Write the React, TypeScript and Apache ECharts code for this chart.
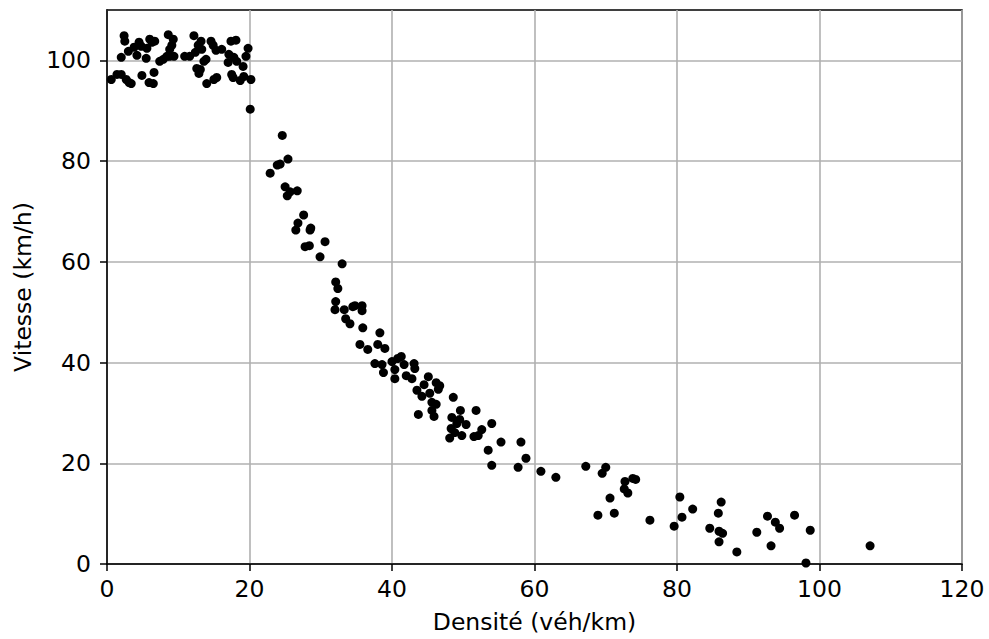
import React, { useEffect, useRef } from "react";
import * as echarts from "echarts";

const density: number[] = [
  0.6, 1.4, 2.0, 2.0, 2.4, 2.5, 2.7, 3.0, 3.1, 3.4, 3.8, 4.2, 4.5, 4.8, 4.9, 5.5, 5.6, 5.9, 6.0, 6.3,
  6.5, 6.6, 6.7, 7.4, 7.9, 8.4, 8.6, 8.8, 8.8, 9.1, 9.3, 9.4, 10.9, 11.6, 12.2, 12.4, 12.6, 12.8, 12.9, 13.1,
  13.2, 13.3, 13.6, 13.9, 14.0, 14.6, 14.9, 15.0, 15.3, 15.4, 16.1, 17.0, 17.1, 17.4, 17.5, 17.7, 17.8, 18.1, 18.2, 18.7,
  19.1, 19.2, 19.5, 19.8, 20.2, 20.1,
  22.9, 23.9, 24.3, 24.6, 25.0, 25.3, 25.4, 25.7, 26.7, 26.5, 26.8, 27.6, 27.8, 28.4, 28.5, 28.6, 29.9, 30.6,
  32.0, 32.1, 32.1, 32.4, 33.0, 33.3, 33.5, 34.1, 34.5, 34.8, 35.5, 35.8, 35.8, 35.9, 36.6, 37.6, 38.0, 38.3,
  38.6, 38.8, 39.0, 40.0, 40.4, 40.4, 40.8, 41.3, 42.0, 41.7, 42.8, 43.1, 43.2, 43.5, 43.7, 44.2, 44.5, 45.1,
  45.3, 45.6, 45.6, 45.9, 46.2, 46.5, 46.7, 46.2, 48.6, 48.4, 48.1, 48.3, 48.8, 49.1, 49.5, 49.8, 49.6, 50.4,
  51.8, 51.5, 52.1, 52.6, 53.5, 54.0, 54.0, 55.3, 57.7, 58.1, 58.8, 60.9, 63.0,
  67.2, 68.9, 69.5, 70.0, 70.6, 71.2, 72.7, 72.6, 73.1, 73.8, 74.2, 76.2, 79.6, 80.4, 80.7, 82.2,
  84.6, 85.8, 85.9, 85.9, 86.2, 86.4, 88.4, 91.2, 92.7, 93.2, 93.8, 94.4, 96.5, 98.1, 98.7, 107.1,
];

const speed: number[] = [
  96.2, 97.2, 97.2, 100.6, 104.9, 103.8, 96.2, 101.8, 95.6, 95.4, 102.6, 101.0, 103.6, 102.8, 97.0, 100.4, 102.4, 95.6, 104.2, 103.6,
  95.4, 97.6, 103.8, 99.8, 100.2, 100.8, 105.1, 100.8, 102.2, 103.0, 104.2, 100.8, 100.8, 100.8, 104.9, 101.6, 98.4, 103.0, 97.4, 98.2,
  103.8, 102.2, 99.8, 100.2, 95.4, 103.8, 103.0, 96.2, 102.0, 96.6, 102.2, 99.6, 101.2, 103.8, 97.2, 96.6, 100.6, 104.0, 99.8, 96.0,
  98.8, 96.8, 100.8, 102.4, 96.2, 90.3,
  77.6, 79.2, 79.4, 85.1, 74.9, 73.1, 80.4, 73.9, 74.1, 66.3, 67.7, 69.3, 63.0, 63.2, 66.3, 66.7, 61.0, 64.0,
  50.5, 52.1, 56.0, 54.7, 59.6, 50.5, 48.7, 47.7, 51.1, 51.3, 43.6, 51.3, 50.3, 46.9, 42.6, 39.8, 43.6, 45.9,
  39.6, 38.0, 42.8, 40.2, 38.6, 36.8, 40.8, 41.2, 37.4, 39.6, 36.8, 39.8, 38.8, 34.5, 29.7, 33.3, 35.6, 37.2,
  33.9, 32.1, 30.5, 29.3, 36.0, 34.7, 35.4, 31.7, 33.1, 29.1, 25.0, 26.9, 26.1, 27.9, 28.7, 25.5, 30.5, 27.7,
  30.5, 25.3, 25.5, 26.7, 22.6, 27.9, 19.6, 24.2, 19.2, 24.2, 21.0, 18.4, 17.2,
  19.4, 9.7, 18.0, 19.2, 13.1, 10.1, 16.4, 14.9, 14.1, 17.0, 16.8, 8.7, 7.5, 13.3, 9.3, 10.9,
  7.1, 10.1, 4.4, 6.5, 12.3, 6.1, 2.4, 6.3, 9.5, 3.6, 8.3, 7.1, 9.7, 0.2, 6.7, 3.6,
];

const xTicks = [0, 20, 40, 60, 80, 100, 120];
const yTicks = [0, 20, 40, 60, 80, 100];
const xTitle = "Densité (véh/km)";
const yTitle = "Vitesse (km/h)";

export default function App() {
  const ref = useRef<HTMLDivElement>(null);
  useEffect(() => {
    document.body.style.margin = "0";
    if (!ref.current) return;
    const chart = echarts.init(ref.current, undefined, { renderer: "svg" });
    const font = "DejaVu Sans";
    const fs = 23.5;
    chart.setOption({
      animation: false,
      backgroundColor: "#ffffff",
      textStyle: { fontFamily: font },
      grid: {
        left: 107,
        right: 27,
        top: 10,
        bottom: 73,
        show: true,
        borderColor: "#000000",
        borderWidth: 1.5,
        backgroundColor: "transparent",
      },
      xAxis: {
        type: "value",
        min: 0,
        max: 120,
        interval: 20,
        name: xTitle,
        nameLocation: "middle",
        nameGap: 46,
        nameTextStyle: { fontFamily: font, fontSize: fs, color: "#000" },
        axisLine: { show: true, onZero: false, lineStyle: { color: "#000", width: 1.5 } },
        axisTick: { show: true, length: 7, lineStyle: { color: "#000", width: 1.5 } },
        axisLabel: { fontFamily: font, fontSize: fs, color: "#000", margin: 13, formatter: (v: number) => (xTicks.includes(v) ? String(v) : "") },
        splitLine: { show: true, lineStyle: { color: "#b0b0b0", width: 1.6 } },
      },
      yAxis: {
        type: "value",
        min: 0,
        max: 110,
        interval: 20,
        name: yTitle,
        nameLocation: "middle",
        nameGap: 72,
        nameTextStyle: { fontFamily: font, fontSize: fs, color: "#000" },
        axisLine: { show: true, onZero: false, lineStyle: { color: "#000", width: 1.5 } },
        axisTick: { show: true, length: 7, customValues: yTicks, lineStyle: { color: "#000", width: 1.5 } },
        axisLabel: {
          fontFamily: font,
          fontSize: fs,
          color: "#000",
          margin: 16,
          customValues: yTicks,
          formatter: (v: number) => (yTicks.includes(v) ? String(v) : ""),
        },
        splitLine: { show: true, lineStyle: { color: "#b0b0b0", width: 1.6 } },
      },
      series: [
        {
          type: "scatter",
          data: density.map((d, i) => [d, speed[i]]),
          symbol: "circle",
          symbolSize: 9,
          itemStyle: { color: "#000000", opacity: 1 },
          clip: false,
        },
      ],
    });
    return () => chart.dispose();
  }, []);
  return <div ref={ref} style={{ position: "fixed", left: 0, top: 0, width: 989, height: 639 }} />;
}
